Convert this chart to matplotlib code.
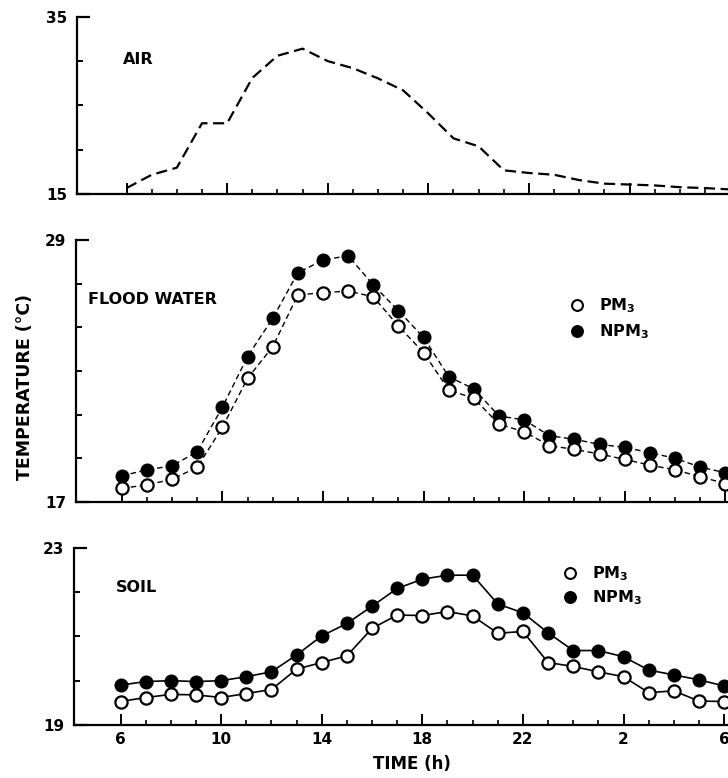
import matplotlib
matplotlib.use("Agg")
import matplotlib.pyplot as plt
from matplotlib.ticker import FixedLocator, FixedFormatter, NullFormatter

# ---------------- data ----------------
hours = list(range(6, 31))
time_tick_pos = [6, 10, 14, 18, 22, 26, 30]
time_tick_labels = ["6", "10", "14", "18", "22", "2", "6"]

air = [15.7, 17.2, 18.0, 23.0, 23.0, 28.1, 30.6, 31.4, 30.0, 29.2, 28.05, 26.7,
       24.1, 21.3, 20.4, 17.7, 17.4, 17.2, 16.6, 16.2, 16.1, 16.0, 15.8, 15.7, 15.55]

flood_npm3 = [18.2, 18.47, 18.66, 19.3, 21.34, 23.66, 25.41, 27.5, 28.08, 28.28,
              26.94, 25.76, 24.54, 22.74, 22.18, 20.94, 20.76, 20.04, 19.87, 19.64,
              19.5, 19.26, 19.0, 18.6, 18.34]
flood_pm3 = [17.63, 17.78, 18.04, 18.59, 20.42, 22.66, 24.11, 26.48, 26.59, 26.66,
             26.4, 25.06, 23.84, 22.13, 21.75, 20.56, 20.22, 19.58, 19.41, 19.2,
             18.95, 18.69, 18.47, 18.16, 17.84]

soil_npm3 = [19.9, 19.98, 20.0, 19.98, 20.0, 20.09, 20.2, 20.58, 21.01, 21.29,
             21.68, 22.08, 22.29, 22.38, 22.38, 21.73, 21.53, 21.08, 20.68, 20.68,
             20.54, 20.24, 20.13, 20.02, 19.88]
soil_pm3 = [19.53, 19.62, 19.69, 19.68, 19.62, 19.71, 19.8, 20.26, 20.41, 20.56,
            21.18, 21.48, 21.47, 21.56, 21.46, 21.07, 21.11, 20.41, 20.32, 20.2,
            20.09, 19.73, 19.77, 19.54, 19.53]

air_yticks = [15, 20, 25, 30, 35]
flood_yticks = [17, 19, 21, 23, 25, 27, 29]
soil_yticks = [19, 20, 21, 22, 23]

# ---------------- layout ----------------
W, H = 728, 778
plt.rcParams['font.family'] = ['DejaVu Sans']
plt.rcParams['mathtext.fontset'] = 'dejavusans'
fig = plt.figure(figsize=(W / 100, H / 100), dpi=100)

PX_PER_H = 25.15
XMAX = 30.3


def make_axes(left_px, top_px, bottom_px, x0):
    width_px = (XMAX - x0) * PX_PER_H
    ax = fig.add_axes([left_px / W, 1 - bottom_px / H, width_px / W, (bottom_px - top_px) / H])
    ax.set_xlim(x0, XMAX)
    for s in ("top", "right"):
        ax.spines[s].set_visible(False)
    for s in ("left", "bottom"):
        ax.spines[s].set_linewidth(1.6)
    ax.patch.set_alpha(0)
    return ax


def style_axis(ax, yticks, ylim, show_x_labels):
    ax.set_ylim(*ylim)
    ends = [yticks[0], yticks[-1]]
    inner = yticks[1:-1]
    ax.yaxis.set_major_locator(FixedLocator(ends))
    ax.yaxis.set_major_formatter(FixedFormatter([str(v) for v in ends]))
    ax.yaxis.set_minor_locator(FixedLocator(inner))
    ax.tick_params(axis='y', which='major', direction='in', length=9, width=1.6,
                   pad=7, labelsize=11)
    ax.tick_params(axis='y', which='minor', direction='in', length=4, width=1.4)
    ax.xaxis.set_major_locator(FixedLocator(time_tick_pos))
    ax.xaxis.set_minor_locator(FixedLocator(hours))
    if show_x_labels:
        ax.xaxis.set_major_formatter(FixedFormatter(time_tick_labels))
    else:
        ax.xaxis.set_major_formatter(NullFormatter())
    ax.tick_params(axis='x', which='major', direction='in', length=8, width=1.4,
                   pad=5, labelsize=11)
    ax.tick_params(axis='x', which='minor', direction='in', length=3.5, width=1.2)
    for lab in ax.get_yticklabels() + ax.get_xticklabels():
        lab.set_fontweight('bold')


ms = 8.8

# ---- AIR ----
ax1 = make_axes(77, 16.7, 194.3, 4.03)
style_axis(ax1, air_yticks, (15, 35), False)
ax1.plot(hours, air, color='black', lw=1.6, ls=(0, (5, 2.5)))

# ---- FLOOD WATER ----
ax2 = make_axes(76, 240, 502, 4.18)
style_axis(ax2, flood_yticks, (17, 29), False)
ax2.plot(hours, flood_npm3, color='black', lw=1.0, ls=(0, (4, 2.5)), marker='o',
         ms=ms, mfc='black', mec='black', mew=1.3, zorder=3)
ax2.plot(hours, flood_pm3, color='black', lw=1.0, ls=(0, (4, 2.5)), marker='o',
         ms=ms, mfc='white', mec='black', mew=1.6, zorder=4)

# ---- SOIL ----
ax3 = make_axes(74, 547.7, 725, 4.15)
style_axis(ax3, soil_yticks, (19, 23), True)
ax3.plot(hours, soil_npm3, color='black', lw=1.2, marker='o',
         ms=ms, mfc='black', mec='black', mew=1.3, zorder=3)
ax3.plot(hours, soil_pm3, color='black', lw=1.2, marker='o',
         ms=ms, mfc='white', mec='black', mew=1.6, zorder=4)


# text labels in pixel coords (from top-left)
def ptext(x, y, s, **kw):
    fig.text(x / W, 1 - y / H, s, **kw)


ptext(123, 59, "AIR", fontsize=11.5, fontweight='bold', va='center', ha='left')
ptext(88, 300, "FLOOD WATER", fontsize=11.5, fontweight='bold', va='center', ha='left')
ptext(116, 588, "SOIL", fontsize=11.5, fontweight='bold', va='center', ha='left')


def legend_entry(x, y, filled, label):
    fig.lines.append(plt.Line2D([x / W], [1 - y / H], transform=fig.transFigure,
                                marker='o', ms=7.8, mfc='black' if filled else 'white',
                                mec='black', mew=1.5, ls='none'))
    ptext(x + 22, y + 1, label, fontsize=11.5, fontweight='bold', va='center', ha='left')


legend_entry(577, 305, False, r"PM$_\mathbf{3}$")
legend_entry(577, 331, True, r"NPM$_\mathbf{3}$")
legend_entry(570, 573, False, r"PM$_\mathbf{3}$")
legend_entry(570, 597, True, r"NPM$_\mathbf{3}$")

ptext(25, 387, "TEMPERATURE (°C)", fontsize=12.5, fontweight='bold', rotation=90,
      va='center', ha='center')
ptext(412, 764, "TIME (h)", fontsize=12, fontweight='bold', va='center', ha='center')

fig.savefig("out.png", dpi=100)
